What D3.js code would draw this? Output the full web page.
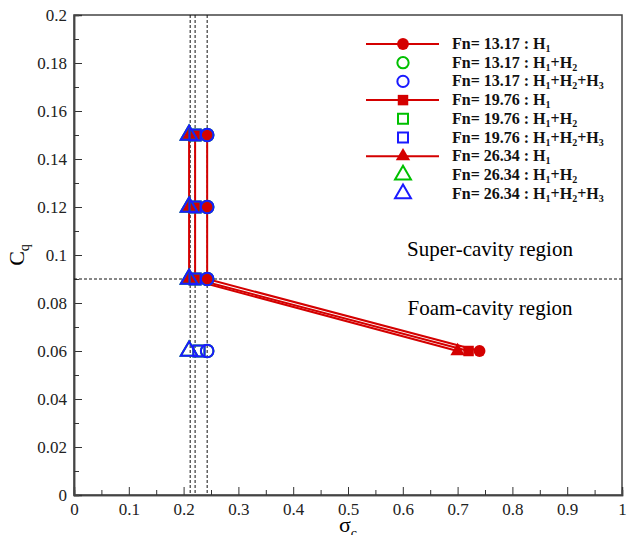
<!DOCTYPE html>
<html>
<head>
<meta charset="utf-8">
<script src="https://cdn.jsdelivr.net/npm/d3@7"></script>
<style>
  body { margin: 0; background: #fff; }
  svg text { font-family: "Liberation Serif", "Times New Roman", Tinos, "DejaVu Serif", serif !important; }
</style>
</head>
<body>
<div id="chart"></div>
<script>
// data
var cqLevels = [0.06, 0.09, 0.12, 0.15];
var fnLabels = ["13.17", "19.76", "26.34"];
var fnShapes = ["circle", "square", "triangle"];
// sigma for H1 (red, connected) per Fn, one value per cq level
var sigmaH1 = [
    [0.74, 0.243, 0.243, 0.243],
    [0.72, 0.221, 0.221, 0.221],
    [0.70, 0.210, 0.210, 0.210]
];
// sigma for H1+H2 and H1+H2+H3 (hollow markers)
var sigmaH12 = [
    [0.243, 0.243, 0.243, 0.243],
    [0.228, 0.221, 0.221, 0.221],
    [0.210, 0.210, 0.210, 0.210]
];
var sigmaH123 = [
    [0.243, 0.243, 0.243, 0.243],
    [0.228, 0.221, 0.221, 0.221],
    [0.210, 0.210, 0.210, 0.210]
];
var vLines = [0.212, 0.221, 0.243];
var hLine = 0.09;
var xTicks = [0, 0.1, 0.2, 0.3, 0.4, 0.5, 0.6, 0.7, 0.8, 0.9, 1];
var yTicks = [0, 0.02, 0.04, 0.06, 0.08, 0.1, 0.12, 0.14, 0.16, 0.18, 0.2];

var margin = { top: 15, right: 18, bottom: 40, left: 74 },
    width = 640 - margin.left - margin.right,
    height = 535 - margin.top - margin.bottom;

var x = d3.scaleLinear().domain([0, 1]).range([0, width]);
var y = d3.scaleLinear().domain([0, 0.2]).range([height, 0]);

var svg = d3.select("#chart").append("svg")
    .attr("width", 640)
    .attr("height", 535)
    .append("g")
    .attr("transform", "translate(" + margin.left + "," + margin.top + ")");

function symbolFor(shape, size) {
    var t = shape == "circle" ? d3.symbolCircle : shape == "square" ? d3.symbolSquare : d3.symbolTriangle;
    return d3.symbol().type(t).size(size)();
}

// frame
svg.append("rect")
    .attr("width", width).attr("height", height)
    .attr("fill", "none").attr("stroke", "#444").attr("stroke-width", 1.5);

// axes, ticks pointing inward
var xAxis = svg.append("g")
    .attr("transform", "translate(0," + height + ")")
    .call(d3.axisBottom(x).tickValues(xTicks).tickSize(-8).tickPadding(12)
        .tickFormat(function (d) { return d3.format("")(d); }));
svg.append("g")
    .attr("transform", "translate(0," + height + ")")
    .call(d3.axisBottom(x).tickValues(d3.range(0.05, 1, 0.1)).tickSize(-5).tickFormat(""));
var yAxis = svg.append("g")
    .call(d3.axisLeft(y).tickValues(yTicks).tickSize(-8).tickPadding(7)
        .tickFormat(function (d) { return d3.format("")(+d.toFixed(2)); }));
svg.append("g")
    .call(d3.axisLeft(y).tickValues(d3.range(0.01, 0.2, 0.02)).tickSize(-5).tickFormat(""));
svg.selectAll(".domain").attr("stroke", "#444").attr("stroke-width", 1.5);
svg.selectAll(".tick line").attr("stroke", "#333");
svg.selectAll(".tick text").style("font-size", "17px").attr("fill", "#222");
xAxis.selectAll(".tick text").attr("dy", "0.45em");

// dashed guide lines
svg.selectAll(".vline").data(vLines).enter().append("line")
    .attr("x1", function (d) { return x(d); }).attr("x2", function (d) { return x(d); })
    .attr("y1", 0).attr("y2", height)
    .attr("stroke", "#111").attr("stroke-width", 1).attr("stroke-dasharray", "3,2");
svg.append("line")
    .attr("x1", 0).attr("x2", width).attr("y1", y(hLine)).attr("y2", y(hLine))
    .attr("stroke", "#111").attr("stroke-width", 1).attr("stroke-dasharray", "3,2");

// H1 lines + filled markers
var line = d3.line().x(function (d) { return x(d[0]); }).y(function (d) { return y(d[1]); });
sigmaH1.forEach(function (s, i) {
    var pts = s.map(function (v, j) { return [v, cqLevels[j]]; });
    svg.append("path").datum(pts).attr("d", line)
        .attr("fill", "none").attr("stroke", "#d40000").attr("stroke-width", 2);
});
sigmaH1.forEach(function (s, i) {
    s.forEach(function (v, j) {
        svg.append("path")
            .attr("d", symbolFor(fnShapes[i], i == 2 ? 90 : 110))
            .attr("transform", "translate(" + x(v) + "," + y(cqLevels[j]) + ")")
            .attr("fill", "#d40000");
    });
});

// hollow markers
function hollow(data, color) {
    data.forEach(function (s, i) {
        s.forEach(function (v, j) {
            svg.append("path")
                .attr("d", symbolFor(fnShapes[i], i == 2 ? 120 : 125))
                .attr("transform", "translate(" + x(v) + "," + y(cqLevels[j]) + ")")
                .attr("fill", "none").attr("stroke", color).attr("stroke-width", 2);
        });
    });
}
hollow(sigmaH12, "#00c000");
hollow(sigmaH123, "#1a1aff");

// region annotations
svg.append("text").attr("x", 490 - margin.left).attr("y", 256 - margin.top)
    .attr("text-anchor", "middle").style("font-size", "21px").text("Super-cavity region");
svg.append("text").attr("x", 490 - margin.left).attr("y", 315 - margin.top)
    .attr("text-anchor", "middle").style("font-size", "21px").text("Foam-cavity region");

// axis titles
var cq = svg.append("text")
    .attr("transform", "translate(" + (-50) + "," + y(0.1) + ") rotate(-90)")
    .attr("text-anchor", "middle").style("font-size", "22px");
cq.append("tspan").text("C");
cq.append("tspan").attr("dy", 5).style("font-size", "14px").text("q");
var sg = svg.append("text")
    .attr("x", x(0.5)).attr("y", height + 37)
    .attr("text-anchor", "middle").style("font-size", "22px");
sg.append("tspan").text("σ");
sg.append("tspan").attr("dy", 6).style("font-size", "14px").text("c");

// legend
var legendRows = [];
fnLabels.forEach(function (fn, i) {
    legendRows.push({ fn: fn, shape: fnShapes[i], kind: 1 });
    legendRows.push({ fn: fn, shape: fnShapes[i], kind: 2 });
    legendRows.push({ fn: fn, shape: fnShapes[i], kind: 3 });
});
var lg = svg.append("g").attr("transform", "translate(" + (366 - margin.left) + "," + (44 - margin.top) + ")");
legendRows.forEach(function (r, k) {
    var g = lg.append("g").attr("transform", "translate(0," + (k * 18.7) + ")");
    if (r.kind == 1) {
        g.append("line").attr("x1", 0).attr("x2", 73).attr("stroke", "#d40000").attr("stroke-width", 2);
        g.append("path").attr("d", symbolFor(r.shape, r.shape == "triangle" ? 90 : 110))
            .attr("transform", "translate(37,0)").attr("fill", "#d40000");
    } else {
        g.append("path").attr("d", symbolFor(r.shape, r.shape == "triangle" ? 110 : 100))
            .attr("transform", "translate(37,0)").attr("fill", "none")
            .attr("stroke", r.kind == 2 ? "#00c000" : "#1a1aff").attr("stroke-width", 2);
    }
    var t = g.append("text").attr("x", 86).attr("y", 5)
        .style("font-size", "16px").style("font-weight", "bold").attr("fill", "#111");
    t.append("tspan").text("Fn= " + r.fn + " : H");
    t.append("tspan").attr("dy", 3).style("font-size", "10px").text("1");
    for (var h = 2; h <= r.kind; h++) {
        t.append("tspan").attr("dy", -3).text("+H");
        t.append("tspan").attr("dy", 3).style("font-size", "10px").text(h);
    }
});
</script>
</body>
</html>
